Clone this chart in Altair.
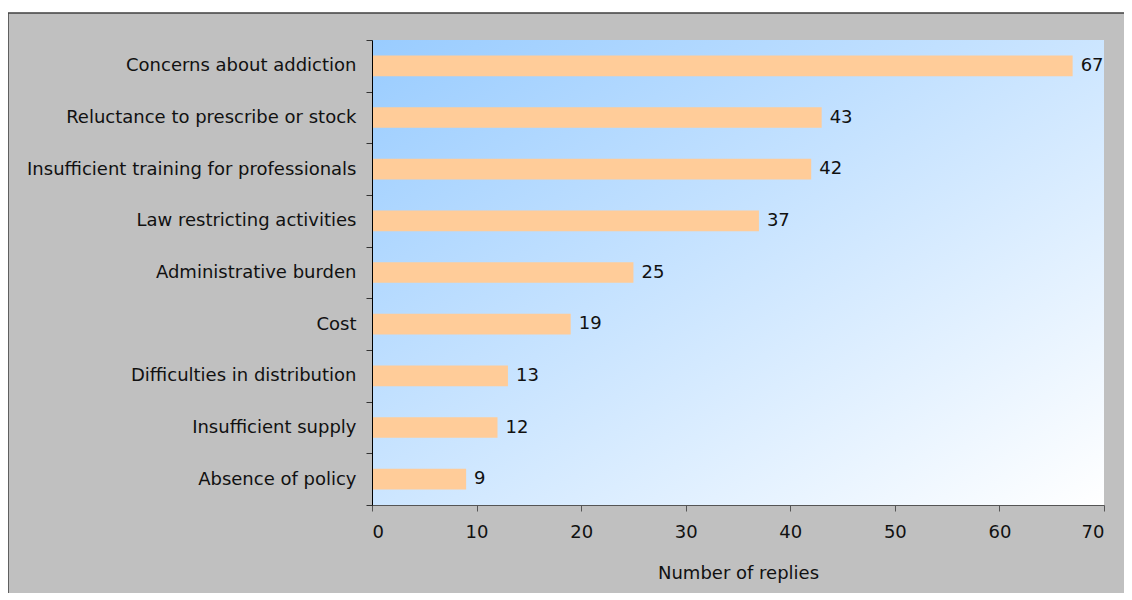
import altair as alt
import pandas as pd

categories = [
    "Concerns about addiction",
    "Reluctance to prescribe or stock",
    "Insufficient training for professionals",
    "Law restricting activities",
    "Administrative burden",
    "Cost",
    "Difficulties in distribution",
    "Insufficient supply",
    "Absence of policy",
]
replies = [67, 43, 42, 37, 25, 19, 13, 12, 9]
x_ticks = [0, 10, 20, 30, 40, 50, 60, 70]

df = pd.DataFrame({"reason": categories, "replies": replies})

W, H = 732, 465
FONT = "DejaVu Sans"
FS = 18
TXT = "#111111"

frame = alt.Chart(pd.DataFrame({"a": [0]})).mark_rect(
    fill="#c0c0c0", stroke="#404040", strokeWidth=1.5
).encode(
    x=alt.value(-364), x2=alt.value(800), y=alt.value(-27), y2=alt.value(620)
)

grad = alt.Chart(pd.DataFrame({"a": [0]})).mark_rect(
    color=alt.Gradient(
        gradient="linear",
        stops=[alt.GradientStop(color="#99ccff", offset=0),
               alt.GradientStop(color="#ffffff", offset=1)],
        x1=0, y1=0, x2=1, y2=1,
    )
).encode(
    x=alt.value(0), x2=alt.value(W), y=alt.value(0), y2=alt.value(H)
)

y_enc = alt.Y(
    "reason:N", sort=categories, title=None,
    scale=alt.Scale(paddingInner=0, paddingOuter=0),
    axis=alt.Axis(
        labelFont=FONT, labelFontSize=FS, labelColor=TXT, labelLimit=0,
        tickBand="extent", tickSize=6, tickColor="#333333",
        domainColor="#000000", labelPadding=10, zindex=2,
    ),
)
x_enc = alt.X(
    "replies:Q", title="Number of replies",
    scale=alt.Scale(domain=[0, 70], nice=False),
    axis=alt.Axis(
        values=x_ticks, grid=False, labelFont=FONT, labelFontSize=FS,
        labelColor=TXT, tickSize=6, tickColor="#555555",
        domainColor="#555555", labelPadding=12,
        titleFont=FONT, titleFontSize=FS, titleFontWeight="normal",
        titleColor=TXT, titlePadding=23, zindex=2,
    ),
)

bars = alt.Chart(df).mark_bar(
    color="#ffcc99", height=alt.RelativeBandSize(0.4)
).encode(x=x_enc, y=y_enc)
labels = alt.Chart(df).mark_text(
    align="left", baseline="middle", dx=8, font=FONT, fontSize=FS, color=TXT
).encode(x="replies:Q", y=alt.Y("reason:N", sort=categories), text="replies:Q")

chart = alt.layer(frame, grad, bars, labels).properties(
    width=W, height=H,
    autosize=alt.AutoSizeParams(type="none"),
    padding={"left": 364, "top": 32, "right": 20, "bottom": 88},
).configure_view(stroke=None)

chart.save("out.html", embed_options={"renderer": "svg", "actions": False})
